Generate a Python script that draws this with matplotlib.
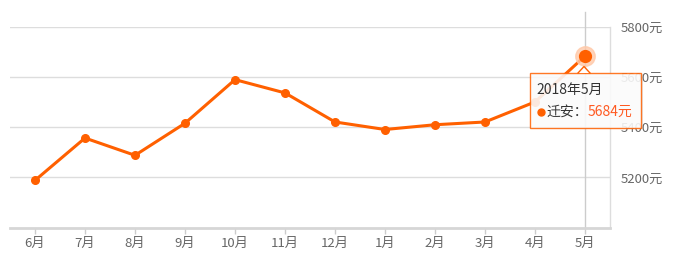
import numpy as np
import matplotlib.pyplot as plt
from matplotlib.patches import Rectangle, Polygon
from matplotlib.lines import Line2D

plt.rcParams['font.family'] = ['Noto Sans CJK SC', 'DejaVu Sans']

# data
months = ["6月", "7月", "8月", "9月", "10月", "11月", "12月", "1月", "2月", "3月", "4月", "5月"]
prices = [5188, 5357, 5288, 5416, 5590, 5537, 5421, 5391, 5410, 5421, 5501, 5684]
y_ticks = [5200, 5400, 5600, 5800]
y_tick_labels = [f"{v}元" for v in y_ticks]
hover_idx = 11
hover_title = "2018年5月"
city = "迁安"

orange = '#ff6000'
W, H = 675, 268

def fx(px):
    return px / W

def fy(py):
    return 1 - py / H

fig = plt.figure(figsize=(W / 100, H / 100), dpi=100)
ax = fig.add_axes([fx(10), fy(227.5), 600 / W, 200.5 / H])

x = np.arange(len(months))
ax.set_xlim(-0.5, len(months) - 0.5)
ax.set_ylim(5000, 5800)

ax.grid(axis='y', color='#dddddd', lw=1)
ax.set_axisbelow(True)
for s in ['top', 'left']:
    ax.spines[s].set_visible(False)
ax.spines['right'].set_color('#dddddd')
ax.spines['right'].set_linewidth(1)
ax.spines['bottom'].set_color('#d6d6d6')
ax.spines['bottom'].set_linewidth(2)

ax.yaxis.tick_right()
ax.set_yticks(y_ticks)
ax.set_yticklabels(y_tick_labels)
ax.tick_params(axis='y', length=0, pad=8, labelsize=9.5, labelcolor='#666666')
ax.set_xticks(x)
ax.set_xticklabels(months)
ax.tick_params(axis='x', length=4, width=1, color='#cccccc', pad=3, labelsize=9.5, labelcolor='#666666')

# hover line
ax.axvline(x[hover_idx], ymin=0, ymax=1.075, color='#cccccc', lw=1, clip_on=False, zorder=2)

ax.plot(x, prices, color=orange, lw=2.2, marker='o', ms=5.5, zorder=3, clip_on=False)
ax.plot(x[hover_idx], prices[hover_idx], 'o', ms=14, color='#ffc9a8', alpha=0.8, zorder=4, clip_on=False)
ax.plot(x[hover_idx], prices[hover_idx], 'o', ms=8.5, color=orange, zorder=5, clip_on=False)

# tooltip
bx0, by0, bx1, by1 = 529.5, 72.5, 640.5, 127.5
fig.add_artist(Rectangle((fx(bx0 + 2), fy(by1 + 2)), (bx1 - bx0) / W, (by1 - by0) / H,
                         transform=fig.transFigure, facecolor='#999999', alpha=0.25, lw=0))
fig.add_artist(Rectangle((fx(bx0), fy(by1)), (bx1 - bx0) / W, (by1 - by0) / H,
                         transform=fig.transFigure, facecolor='white', alpha=0.85,
                         edgecolor=orange, lw=1))
tri = [(fx(578), fy(by0 + 0.5)), (fx(584), fy(66.5)), (fx(590), fy(by0 + 0.5))]
fig.add_artist(Polygon(tri, closed=True, transform=fig.transFigure, facecolor='white', lw=0))
fig.add_artist(Line2D([p[0] for p in tri], [p[1] for p in tri], transform=fig.transFigure,
                      color=orange, lw=1))

fig.text(fx(536.5), fy(90), hover_title, ha='left', va='center', fontsize=10, color='#333333')
fig.add_artist(Line2D([fx(540.5)], [fy(112)], marker='o', ms=5, color=orange,
                      transform=fig.transFigure))
fig.text(fx(546.5), fy(112), f"{city}：", ha='left', va='center', fontsize=10, color='#333333')
fig.text(fx(588), fy(112), f"{prices[hover_idx]}元", ha='left', va='center', fontsize=10, color='#ff5a22')

fig.savefig('out.png', dpi=100)
